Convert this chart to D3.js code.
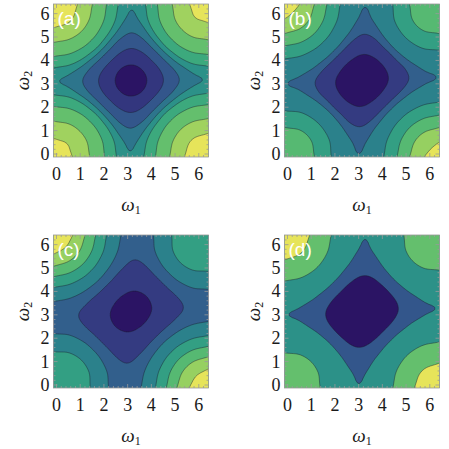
<!DOCTYPE html>
<html>
<head>
<meta charset="utf-8">
<script src="https://cdn.jsdelivr.net/npm/d3@7/dist/d3.min.js"></script>
<style>
body { margin: 0; background: #fff; }
svg { display: block; }
</style>
</head>
<body>
<svg width="449" height="449"></svg>
<script>
var ticks = [0, 1, 2, 3, 4, 5, 6];
var panelLabels = ["(a)", "(b)", "(c)", "(d)"];

var levelsA = [-1.39, -1.1, -0.775, -0.515, -0.25, 0.3, 1.2, 2.1];
var levelsB = [-1.225, -0.81, -0.515, 0.325, 1.225, 2.125, 2.95];
var levelsC = [-1.325, -0.725, -0.2, 0.625, 1.45, 2.275, 3.1];
var levelsD = [-1.025, -0.52, 0.925, 2.425];

var gridA = [
	[2.35, 2.18, 1.65, 0.93, 0.2, -0.33, -0.5, -0.28, 0.3, 1.08, 1.85, 2.43, 2.65],
	[2.18, 2.01, 1.5, 0.81, 0.11, -0.4, -0.57, -0.36, 0.19, 0.93, 1.66, 2.21, 2.43],
	[1.65, 1.5, 1.06, 0.45, -0.16, -0.6, -0.75, -0.56, -0.1, 0.55, 1.2, 1.66, 1.85],
	[0.93, 0.81, 0.45, -0.04, -0.53, -0.88, -1, -0.86, -0.48, 0.04, 0.55, 0.93, 1.08],
	[0.2, 0.11, -0.16, -0.53, -0.9, -1.16, -1.25, -1.14, -0.86, -0.48, -0.1, 0.19, 0.3],
	[-0.33, -0.4, -0.6, -0.88, -1.16, -1.36, -1.43, -1.36, -1.14, -0.86, -0.56, -0.36, -0.28],
	[-0.5, -0.57, -0.75, -1, -1.25, -1.43, -1.5, -1.43, -1.25, -1, -0.75, -0.57, -0.5],
	[-0.28, -0.36, -0.56, -0.86, -1.14, -1.36, -1.43, -1.36, -1.16, -0.88, -0.6, -0.4, -0.33],
	[0.3, 0.19, -0.1, -0.48, -0.86, -1.14, -1.25, -1.16, -0.9, -0.53, -0.16, 0.11, 0.2],
	[1.08, 0.93, 0.55, 0.04, -0.48, -0.86, -1, -0.88, -0.53, -0.04, 0.45, 0.81, 0.93],
	[1.85, 1.66, 1.2, 0.55, -0.1, -0.56, -0.75, -0.6, -0.16, 0.45, 1.06, 1.5, 1.65],
	[2.43, 2.21, 1.66, 0.93, 0.19, -0.36, -0.57, -0.4, 0.11, 0.81, 1.5, 2.01, 2.18],
	[2.65, 2.43, 1.85, 1.08, 0.3, -0.28, -0.5, -0.33, 0.2, 0.93, 1.65, 2.18, 2.35]
];

var gridB = [
	[1.82, 1.73, 1.3, 0.66, 0.02, -0.41, -0.5, -0.19, 0.48, 1.34, 2.2, 2.87, 3.18],
	[1.73, 1.64, 1.2, 0.59, -0.04, -0.47, -0.57, -0.29, 0.34, 1.15, 1.96, 2.58, 2.87],
	[1.3, 1.2, 0.83, 0.27, -0.28, -0.66, -0.75, -0.5, 0.02, 0.73, 1.43, 1.96, 2.2],
	[0.66, 0.59, 0.27, -0.17, -0.61, -0.93, -1, -0.81, -0.39, 0.17, 0.73, 1.15, 1.34],
	[0.02, -0.04, -0.28, -0.61, -0.96, -1.19, -1.25, -1.11, -0.8, -0.39, 0.02, 0.34, 0.48],
	[-0.41, -0.47, -0.66, -0.93, -1.19, -1.38, -1.43, -1.34, -1.11, -0.81, -0.5, -0.29, -0.19],
	[-0.5, -0.57, -0.75, -1, -1.25, -1.43, -1.5, -1.43, -1.25, -1, -0.75, -0.57, -0.5],
	[-0.19, -0.29, -0.5, -0.81, -1.11, -1.34, -1.43, -1.38, -1.19, -0.93, -0.66, -0.47, -0.41],
	[0.48, 0.34, 0.02, -0.39, -0.8, -1.11, -1.25, -1.19, -0.96, -0.61, -0.28, -0.04, 0.02],
	[1.34, 1.15, 0.73, 0.17, -0.39, -0.81, -1, -0.93, -0.61, -0.17, 0.27, 0.59, 0.66],
	[2.2, 1.96, 1.43, 0.73, 0.02, -0.5, -0.75, -0.66, -0.28, 0.27, 0.83, 1.2, 1.3],
	[2.87, 2.58, 1.96, 1.15, 0.34, -0.29, -0.57, -0.47, -0.04, 0.59, 1.2, 1.64, 1.73],
	[3.18, 2.87, 2.2, 1.34, 0.48, -0.19, -0.5, -0.41, 0.02, 0.66, 1.3, 1.73, 1.82]
];

var gridC = [
	[1.4, 1.38, 1.02, 0.45, -0.12, -0.48, -0.5, -0.12, 0.62, 1.55, 2.48, 3.22, 3.6],
	[1.38, 1.35, 0.97, 0.41, -0.16, -0.53, -0.57, -0.23, 0.46, 1.33, 2.19, 2.87, 3.22],
	[1.02, 0.97, 0.64, 0.13, -0.37, -0.7, -0.75, -0.46, 0.11, 0.87, 1.62, 2.19, 2.48],
	[0.45, 0.41, 0.13, -0.28, -0.68, -0.96, -1, -0.78, -0.32, 0.28, 0.87, 1.33, 1.55],
	[-0.12, -0.16, -0.37, -0.68, -1, -1.21, -1.25, -1.09, -0.76, -0.32, 0.11, 0.46, 0.62],
	[-0.48, -0.53, -0.7, -0.96, -1.21, -1.39, -1.43, -1.33, -1.09, -0.78, -0.46, -0.23, -0.12],
	[-0.5, -0.57, -0.75, -1, -1.25, -1.43, -1.5, -1.43, -1.25, -1, -0.75, -0.57, -0.5],
	[-0.12, -0.23, -0.46, -0.78, -1.09, -1.33, -1.43, -1.39, -1.21, -0.96, -0.7, -0.53, -0.48],
	[0.62, 0.46, 0.11, -0.32, -0.76, -1.09, -1.25, -1.21, -1, -0.68, -0.37, -0.16, -0.12],
	[1.55, 1.33, 0.87, 0.28, -0.32, -0.78, -1, -0.96, -0.68, -0.28, 0.13, 0.41, 0.45],
	[2.48, 2.19, 1.62, 0.87, 0.11, -0.46, -0.75, -0.7, -0.37, 0.13, 0.64, 0.97, 1.02],
	[3.22, 2.87, 2.19, 1.33, 0.46, -0.23, -0.57, -0.53, -0.16, 0.41, 0.97, 1.35, 1.38],
	[3.6, 3.22, 2.48, 1.55, 0.62, -0.12, -0.5, -0.48, -0.12, 0.45, 1.02, 1.38, 1.4]
];

var gridD = [
	[1.82, 1.73, 1.3, 0.66, 0.02, -0.41, -0.5, -0.19, 0.48, 1.34, 2.2, 2.87, 3.18],
	[1.73, 1.64, 1.2, 0.59, -0.04, -0.47, -0.57, -0.29, 0.34, 1.15, 1.96, 2.58, 2.87],
	[1.3, 1.2, 0.83, 0.27, -0.28, -0.66, -0.75, -0.5, 0.02, 0.73, 1.43, 1.96, 2.2],
	[0.66, 0.59, 0.27, -0.17, -0.61, -0.93, -1, -0.81, -0.39, 0.17, 0.73, 1.15, 1.34],
	[0.02, -0.04, -0.28, -0.61, -0.96, -1.19, -1.25, -1.11, -0.8, -0.39, 0.02, 0.34, 0.48],
	[-0.41, -0.47, -0.66, -0.93, -1.19, -1.38, -1.43, -1.34, -1.11, -0.81, -0.5, -0.29, -0.19],
	[-0.5, -0.57, -0.75, -1, -1.25, -1.43, -1.5, -1.43, -1.25, -1, -0.75, -0.57, -0.5],
	[-0.19, -0.29, -0.5, -0.81, -1.11, -1.34, -1.43, -1.38, -1.19, -0.93, -0.66, -0.47, -0.41],
	[0.48, 0.34, 0.02, -0.39, -0.8, -1.11, -1.25, -1.19, -0.96, -0.61, -0.28, -0.04, 0.02],
	[1.34, 1.15, 0.73, 0.17, -0.39, -0.81, -1, -0.93, -0.61, -0.17, 0.27, 0.59, 0.66],
	[2.2, 1.96, 1.43, 0.73, 0.02, -0.5, -0.75, -0.66, -0.28, 0.27, 0.83, 1.2, 1.3],
	[2.87, 2.58, 1.96, 1.15, 0.34, -0.29, -0.57, -0.47, -0.04, 0.59, 1.2, 1.64, 1.73],
	[3.18, 2.87, 2.2, 1.34, 0.48, -0.19, -0.5, -0.41, 0.02, 0.66, 1.3, 1.73, 1.82]
];

var panels = [
	{label: panelLabels[0], grid: gridA, levels: levelsA, ox: 0, oy: 0},
	{label: panelLabels[1], grid: gridB, levels: levelsB, ox: 231, oy: 0},
	{label: panelLabels[2], grid: gridC, levels: levelsC, ox: 0, oy: 231},
	{label: panelLabels[3], grid: gridD, levels: levelsD, ox: 231, oy: 231}
];

var ramp = d3.interpolateRgbBasis(["#2b1464", "#38428a", "#2f6b8e", "#27928a", "#3fb17a", "#86cd5f", "#e6e45a"]);

var svg = d3.select("svg");
var TWO_PI = 2 * Math.PI;
var nodes = 12;   // grid cells across [0, 2pi]
var sub = 6;      // drawing subdivisions per cell
var ext = 4;      // extra samples beyond each side (frame padding)

// catmull-rom resampling, only so the contour lines come out smooth
function cr(p0, p1, p2, p3, f) {
	return 0.5 * ((2 * p1) + (-p0 + p2) * f + (2 * p0 - 5 * p1 + 4 * p2 - p3) * f * f + (-p0 + 3 * p1 - 3 * p2 + p3) * f * f * f);
}
function col(grid, i, j) {
	if (i < 0) return grid[j][0] + i * (grid[j][1] - grid[j][0]);
	if (i > nodes) return grid[j][nodes] + (i - nodes) * (grid[j][nodes] - grid[j][nodes - 1]);
	return grid[j][i];
}
function node(grid, i, j) {
	if (j < 0) return col(grid, i, 0) + j * (col(grid, i, 1) - col(grid, i, 0));
	if (j > nodes) return col(grid, i, nodes) + (j - nodes) * (col(grid, i, nodes) - col(grid, i, nodes - 1));
	return col(grid, i, j);
}
function resample(grid) {
	var n = nodes * sub + 1 + 2 * ext;
	var out = new Array(n * n);
	for (var y = 0; y < n; y++) {
		var ty = (y - ext) / sub, jy = Math.floor(ty), fy = ty - jy;
		for (var x = 0; x < n; x++) {
			var tx = (x - ext) / sub, ix = Math.floor(tx), fx = tx - ix;
			var rows = [];
			for (var k = -1; k <= 2; k++) {
				rows.push(cr(node(grid, ix - 1, jy + k), node(grid, ix, jy + k), node(grid, ix + 1, jy + k), node(grid, ix + 2, jy + k), fx));
			}
			out[x + y * n] = cr(rows[0], rows[1], rows[2], rows[3], fy);
		}
	}
	return {n: n, values: out};
}

var serif = "'Liberation Serif', 'Times New Roman', Times, 'DejaVu Serif', serif";

panels.forEach(function(p, pi) {
	var fx0 = 53.5 + p.ox, fx1 = 208.5 + p.ox;
	var fy0 = 4 + p.oy, fy1 = 157 + p.oy;
	var x = d3.scaleLinear().domain([0, TWO_PI]).range([fx0 + 3, fx1 - 3]);
	var y = d3.scaleLinear().domain([0, TWO_PI]).range([fy1 - 3, fy0 + 3]);

	var g = svg.append("g");
	var clipId = "clip" + pi;
	g.append("clipPath").attr("id", clipId)
		.append("rect").attr("x", fx0).attr("y", fy0).attr("width", fx1 - fx0).attr("height", fy1 - fy0);

	var nb = p.levels.length + 1;
	var body = g.append("g").attr("clip-path", "url(#" + clipId + ")");
	body.append("rect")
		.attr("x", fx0).attr("y", fy0).attr("width", fx1 - fx0).attr("height", fy1 - fy0)
		.attr("fill", ramp(0));

	var rs = resample(p.grid);
	var toW = function(c) { return ((c - 0.5 - ext) / sub) * (TWO_PI / nodes); };
	var proj = d3.geoTransform({
		point: function(px, py) { this.stream.point(x(toW(px)), y(toW(py))); }
	});
	var path = d3.geoPath(proj);
	var contours = d3.contours().size([rs.n, rs.n]).thresholds(p.levels)(rs.values);

	body.selectAll("path.band").data(contours).enter().append("path")
		.attr("class", "band")
		.attr("d", path)
		.attr("fill", function(d, i) { return ramp((i + 1) / (nb - 1)); })
		.attr("stroke", "#1a1a2a")
		.attr("stroke-opacity", 0.6)
		.attr("stroke-width", 0.7);

	// frame with ticks on all four sides, pointing inwards
	var minor = d3.range(0, 6.3, 0.2);
	var fr = g.append("g").attr("stroke", "#999").attr("stroke-width", 0.8).attr("fill", "none");
	fr.append("rect").attr("x", fx0).attr("y", fy0).attr("width", fx1 - fx0).attr("height", fy1 - fy0);
	minor.forEach(function(v) {
		var major = Math.abs(v - Math.round(v)) < 1e-6;
		var len = major ? 4 : 2;
		fr.append("line").attr("x1", x(v)).attr("x2", x(v)).attr("y1", fy1).attr("y2", fy1 - len);
		fr.append("line").attr("x1", x(v)).attr("x2", x(v)).attr("y1", fy0).attr("y2", fy0 + len);
		fr.append("line").attr("y1", y(v)).attr("y2", y(v)).attr("x1", fx0).attr("x2", fx0 + len);
		fr.append("line").attr("y1", y(v)).attr("y2", y(v)).attr("x1", fx1).attr("x2", fx1 - len);
	});

	var tl = g.append("g").attr("font-size", 18).attr("fill", "#1a1a1a");
	ticks.forEach(function(t) {
		tl.append("text").attr("font-family", serif)
			.attr("x", x(t)).attr("y", fy1 + 23).attr("text-anchor", "middle").text(t);
		tl.append("text").attr("font-family", serif)
			.attr("x", fx0 - 4).attr("y", y(t) + 6).attr("text-anchor", "end").text(t);
	});

	var xl = tl.append("text").attr("font-family", serif).attr("font-style", "italic")
		.attr("x", (fx0 + fx1) / 2).attr("y", fy1 + 54)
		.attr("text-anchor", "middle").attr("font-size", 19);
	xl.append("tspan").text("ω");
	xl.append("tspan").attr("font-style", "normal").attr("font-size", 12).attr("dy", 3).text("1");

	var yl = tl.append("text").attr("font-family", serif).attr("font-style", "italic")
		.attr("transform", "translate(" + (p.ox + 29) + "," + ((fy0 + fy1) / 2) + ") rotate(-90)")
		.attr("text-anchor", "middle").attr("font-size", 19);
	yl.append("tspan").text("ω");
	yl.append("tspan").attr("font-style", "normal").attr("font-size", 12).attr("dy", 3).text("2");

	g.append("text").attr("x", fx0 + 4).attr("y", fy0 + 21)
		.attr("font-family", "'Liberation Sans', Arial, sans-serif").attr("font-size", 19)
		.attr("fill", "#fff").text(p.label);
});
</script>
</body>
</html>
